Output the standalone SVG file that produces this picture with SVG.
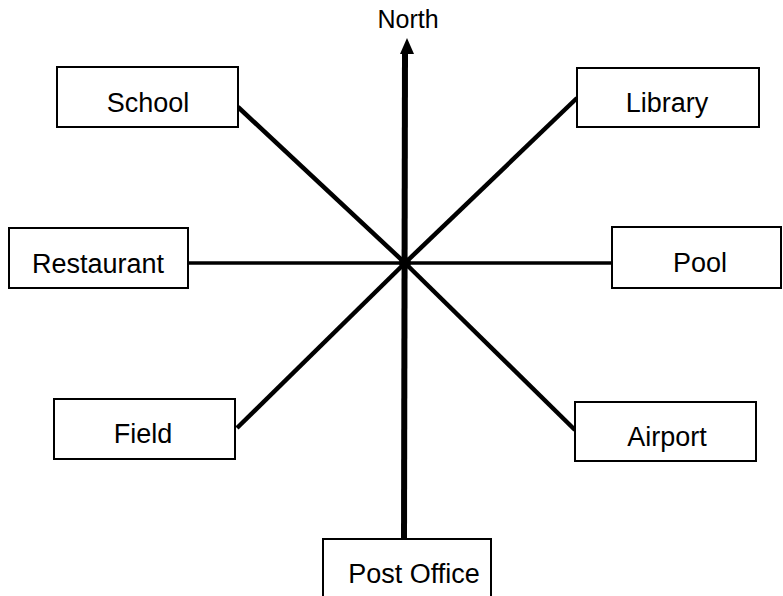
<svg xmlns="http://www.w3.org/2000/svg" width="783" height="596" viewBox="0 0 783 596">
<defs>
<style>
.box{fill:#fff;stroke:#000;stroke-width:2}
.lbl{font-family:"Liberation Sans",Arial,sans-serif;font-size:27px;fill:#000;text-anchor:middle}
.ln{stroke:#000;stroke-linecap:butt;fill:none}
</style>
</defs>
<rect width="783" height="596" fill="#fff"/>
<g id="connectors">
<line class="ln" x1="405" y1="52" x2="404" y2="539" stroke-width="6"/>
<polygon points="407,38 400,54 414,54" fill="#000"/>
<line class="ln" x1="188" y1="263" x2="612" y2="263" stroke-width="3.5"/>
<line class="ln" x1="238" y1="107" x2="405" y2="263" stroke-width="4.5"/>
<line class="ln" x1="577" y1="98" x2="405" y2="263" stroke-width="4.5"/>
<line class="ln" x1="237" y1="428" x2="405" y2="263" stroke-width="4.5"/>
<line class="ln" x1="575" y1="430" x2="405" y2="263" stroke-width="4.5"/>
<circle cx="405" cy="263" r="6" fill="#000"/>
</g>
<g id="north"><text class="lbl" x="408" y="28" style="font-size:25px">North</text></g>
<g id="school"><rect class="box" x="57" y="67" width="181" height="60"/><text class="lbl" x="148" y="112">School</text></g>
<g id="library"><rect class="box" x="577" y="68" width="182" height="59"/><text class="lbl" x="667" y="112">Library</text></g>
<g id="restaurant"><rect class="box" x="9" y="228" width="179" height="60"/><text class="lbl" x="98" y="273">Restaurant</text></g>
<g id="pool"><rect class="box" x="612" y="227" width="169" height="61"/><text class="lbl" x="700" y="272">Pool</text></g>
<g id="field"><rect class="box" x="54" y="399" width="181" height="60"/><text class="lbl" x="143" y="443">Field</text></g>
<g id="airport"><rect class="box" x="575" y="402" width="181" height="59"/><text class="lbl" x="667" y="446">Airport</text></g>
<g id="postoffice"><rect class="box" x="323" y="539" width="168" height="60"/><text class="lbl" x="414" y="583">Post Office</text></g>
</svg>
